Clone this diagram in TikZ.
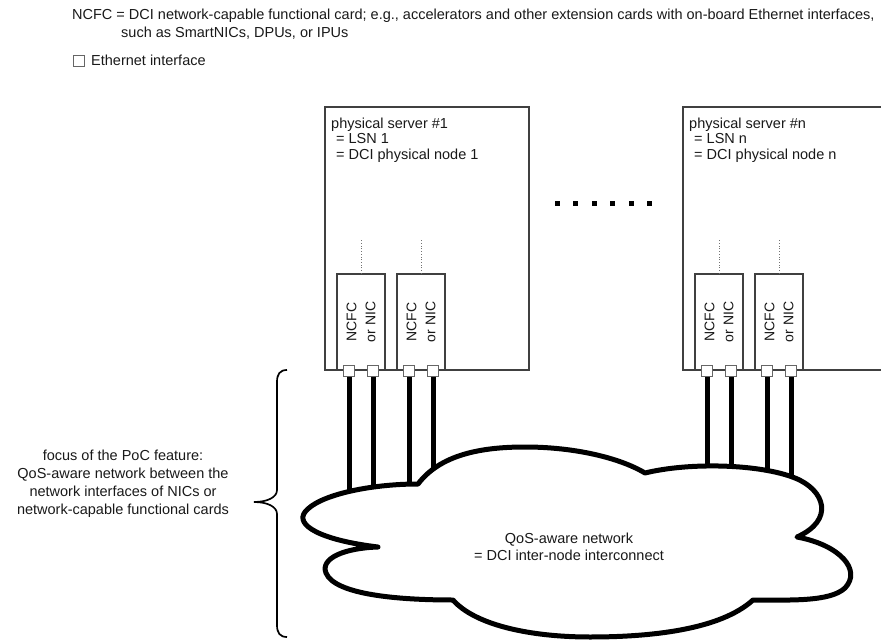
\documentclass[tikz,border=0pt]{standalone}
\usepackage{fontspec}
\setmainfont{Liberation Sans}
\begin{document}
\begin{tikzpicture}[x=1pt,y=-1pt,
  txt/.style={inner sep=0pt, font=\fontsize{14.5}{17}\selectfont, text=black!90},
  frame/.style={draw=black!75, line width=1.1pt},
  card/.style={draw=black!75, line width=1.1pt, fill=white, minimum width=48pt,
               minimum height=96pt, inner sep=0pt},
  cardtxt/.style={txt, rotate=90, align=center, font=\fontsize{14}{19}\selectfont},
  port/.style={draw=black!60, fill=white, line width=0.9pt, minimum size=11pt, inner sep=0pt},
  link/.style={line width=5pt, black},
  bus/.style={draw=black!55, line width=0.7pt, dotted},
  cloudline/.style={draw=black, line width=5pt, fill=white, line join=round}]

\useasboundingbox (0,0) rectangle (881,642);
\clip (0,0) rectangle (881,642);

% legend
\node[txt, anchor=base west] (leg1) at (72,20)
  {NCFC = DCI network-capable functional card; e.g., accelerators and other extension cards with on-board Ethernet interfaces,};
\node[txt, anchor=base west] (leg2) at (121,38) {such as SmartNICs, DPUs, or IPUs};
\node[port, minimum size=11pt] (legport) at (79,61) {};
\node[txt, anchor=base west] (leg3) at (91,66) {Ethernet interface};

% server frames
\draw[frame] (325,107) rectangle (529,370);
\draw[frame] (900,107) -- (683,107) -- (683,370) -- (900,370);

\node[txt, anchor=base west] (s1a) at (331,128) {physical server \#1};
\node[txt, anchor=base west] (s1b) at (336,143.5) {= LSN 1};
\node[txt, anchor=base west] (s1c) at (336,159) {= DCI physical node 1};
\node[txt, anchor=base west] (sna) at (689,128) {physical server \#n};
\node[txt, anchor=base west] (snb) at (694,143.5) {= LSN n};
\node[txt, anchor=base west] (snc) at (694,159) {= DCI physical node n};

% ellipsis between the servers
\foreach \x in {557,575.5,594,612.5,631,649.5}
  \fill (\x-2.5,200.5) rectangle (\x+2.5,205.5);

% network cards
\foreach \n/\x in {a/361,b/421,c/719,d/779}{
  \node[card] (card\n) at (\x,322) {};
  \node[cardtxt] (lbl\n) at (card\n.center) {NCFC\\or NIC};
  \coordinate (bus\n) at (\x,239);
  \draw[bus] (card\n.north) -- (bus\n);
}

% Ethernet ports and their links into the network
\coordinate (inside) at (0,525);
\foreach \n in {a,b,c,d}{
  \node[port] (p\n1) at ([xshift=-12pt]card\n.south) {};
  \node[port] (p\n2) at ([xshift=12pt]card\n.south) {};
  \draw[link] (p\n1.south) -- (p\n1.south |- inside);
  \draw[link] (p\n2.south) -- (p\n2.south |- inside);
}

% QoS-aware network cloud
\path[cloudline] (378,547)
  .. controls (320,540) and (295,525) .. (305,512)
  .. controls (318,495) and (370,484) .. (418,484)
  .. controls (440,455) and (480,447) .. (525,447)
  .. controls (575,447) and (620,458) .. (645,473)
  .. controls (690,462) and (760,464) .. (795,478)
  .. controls (825,490) and (835,520) .. (797,537)
  .. controls (840,545) and (862,570) .. (845,588)
  .. controls (830,602) and (790,600) .. (753,600)
  .. controls (720,630) and (650,637) .. (590,637)
  .. controls (530,637) and (475,625) .. (453,600)
  .. controls (400,600) and (335,595) .. (326,573)
  .. controls (320,558) and (345,548) .. (378,547) -- cycle;

% ports drawn again above the frame lines
\foreach \n in {a,b,c,d}{
  \node[port] at (p\n1) {};
  \node[port] at (p\n2) {};
}

\node[txt, anchor=base] (net1) at (569,543) {QoS-aware network};
\node[txt, anchor=base] (net2) at (569,560) {= DCI inter-node interconnect};

% brace and its annotation
\draw[line width=1.7pt, black] (287,370)
  .. controls (280,370) and (277,374) .. (277,382) -- (277,490)
  .. controls (277,497) and (268,502) .. (254,502)
  .. controls (268,502) and (277,507) .. (277,514) -- (277,625)
  .. controls (277,633) and (280,637) .. (287,637);

\node[txt, anchor=base] (f1) at (123,460) {focus of the PoC feature:};
\node[txt, anchor=base] (f2) at (123,478) {QoS-aware network between the};
\node[txt, anchor=base] (f3) at (123,496) {network interfaces of NICs or};
\node[txt, anchor=base] (f4) at (123,514) {network-capable functional cards};
\end{tikzpicture}
\end{document}
